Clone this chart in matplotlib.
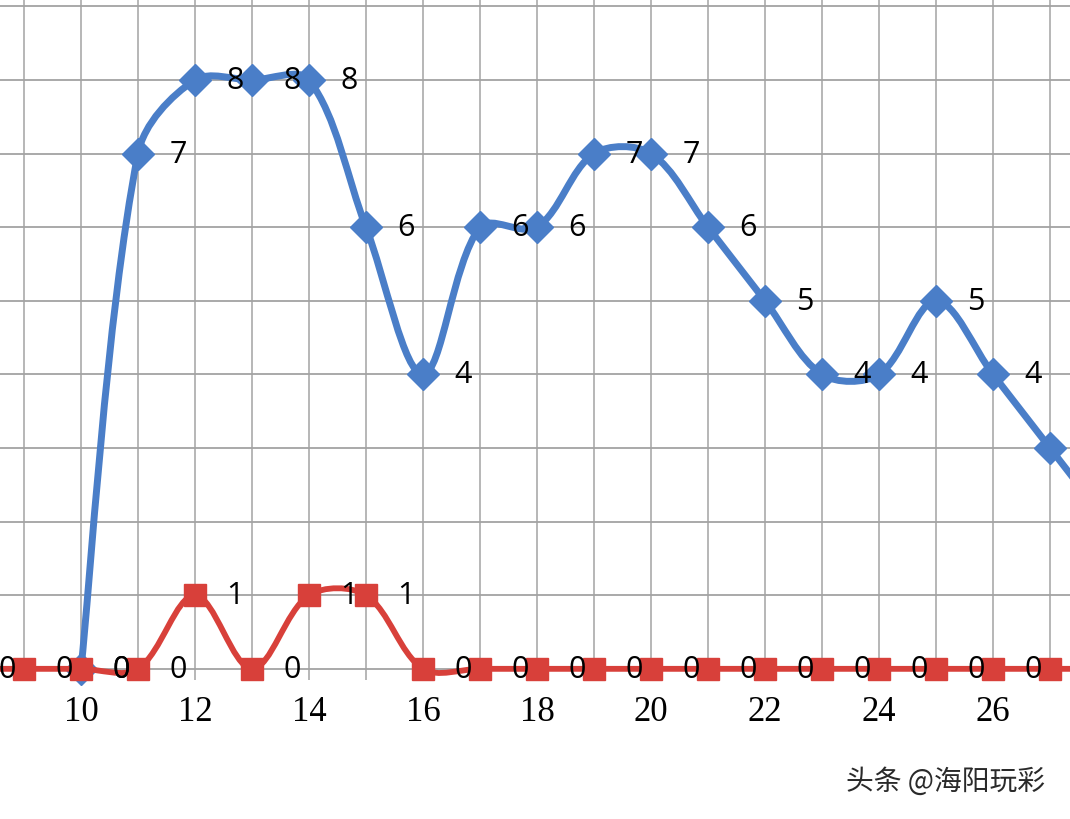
import matplotlib
matplotlib.use('Agg')
import matplotlib.pyplot as plt
from matplotlib.path import Path
import matplotlib.patches as patches
import numpy as np

# data
blue_x = [10, 11, 12, 13, 14, 15, 16, 17, 18, 19, 20, 21, 22, 23, 24, 25, 26, 27, 28]
blue_y = [0, 7, 8, 8, 8, 6, 4, 6, 6, 7, 7, 6, 5, 4, 4, 5, 4, 3, 2]
red_x = [8, 9, 10, 11, 12, 13, 14, 15, 16, 17, 18, 19, 20, 21, 22, 23, 24, 25, 26, 27, 28]
red_y = [0, 0, 0, 0, 1, 0, 1, 1, 0, 0, 0, 0, 0, 0, 0, 0, 0, 0, 0, 0, 0]
x_ticks = [10, 12, 14, 16, 18, 20, 22, 24, 26]

BLUE = '#4a7ec8'
RED = '#d8403a'

XLIM = (8.58, 27.35)
YLIM = (-2.04, 9.1)
SX = 1070 / (XLIM[1] - XLIM[0])   # pixels per unit, used for smoothing shape
SY = 820 / (YLIM[1] - YLIM[0])


def smooth_path(xs, ys):
    # excel style smoothed line: bezier, control points weighted by chord length
    p = np.column_stack([np.array(xs) * SX, np.array(ys) * SY]).astype(float)
    n = len(p)
    tang = []
    for i in range(n):
        a = p[i - 1] if i > 0 else p[i]
        b = p[i + 1] if i + 1 < n else p[i]
        tang.append(b - a)
    seg = [np.hypot(*(p[i + 1] - p[i])) for i in range(n - 1)]
    verts = [p[0]]
    codes = [Path.MOVETO]
    for i in range(n - 1):
        d_prev = seg[i - 1] if i > 0 else seg[i]
        d_next = seg[i + 1] if i + 1 < n - 1 else seg[i]
        k1 = seg[i] / (d_prev + seg[i]) / 3.0 if i > 0 else 1 / 3.0
        k2 = seg[i] / (seg[i] + d_next) / 3.0 if i + 1 < n - 1 else 1 / 3.0
        c1 = p[i] + tang[i] * k1 * (1 if i > 0 else 0.5)
        c2 = p[i + 1] - tang[i + 1] * k2 * (1 if i + 1 < n - 1 else 0.5)
        verts += [c1, c2, p[i + 1]]
        codes += [Path.CURVE4] * 3
    verts = np.array(verts) / [SX, SY]
    return Path(verts, codes)


fig = plt.figure(figsize=(10.7, 8.2), dpi=100)
ax = fig.add_axes([0, 0, 1, 1])
ax.set_xlim(*XLIM)
ax.set_ylim(*YLIM)

for s in ax.spines.values():
    s.set_visible(False)
ax.spines['bottom'].set_position(('data', 0))

# grid
for yv in range(0, 10):
    ax.axhline(yv, color='#a3a3a3', lw=1.3, zorder=0)
ax.vlines(np.arange(9, 28), -0.15, 9.3, color='#a3a3a3', lw=1.1, zorder=0)

ax.set_yticks([])
ax.set_xticks(x_ticks)
ax.set_xticklabels([str(t) for t in x_ticks], family='Liberation Serif', fontsize=25)
ax.tick_params(axis='x', length=0, pad=19)

# series
ax.add_patch(patches.PathPatch(smooth_path(blue_x, blue_y), fill=False,
                               edgecolor=BLUE, lw=5, capstyle='round', zorder=2))
ax.plot(blue_x, blue_y, ls='none', marker='D', ms=16, color=BLUE, zorder=3)
ax.add_patch(patches.PathPatch(smooth_path(red_x, red_y), fill=False,
                               edgecolor=RED, lw=4.2, capstyle='round', zorder=4))
ax.plot(red_x, red_y, ls='none', marker='s', ms=16, color=RED, zorder=5)

# data labels
for xs, ys in [(blue_x, blue_y), (red_x, red_y)]:
    for xv, yv in zip(xs, ys):
        ax.text(xv + 0.7, yv, str(yv), ha='center', va='center',
                family='Open Sans', fontsize=22, color='black', zorder=6)

fig.text(1045 / 1070, 1 - 782 / 820, '头条 @海阳玩彩', ha='right', va='center',
         family=['Noto Sans CJK SC', 'DejaVu Sans'], fontsize=20, color='#2a2a2a')

fig.savefig('out.png', dpi=100)
